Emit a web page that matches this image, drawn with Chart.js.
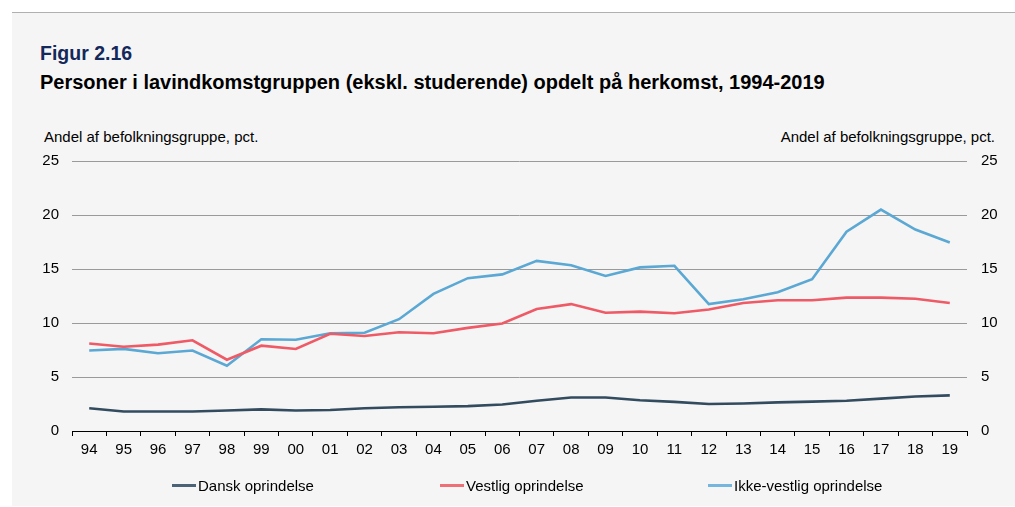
<!DOCTYPE html>
<html>
<head>
<meta charset="utf-8">
<script src="https://cdn.jsdelivr.net/npm/chart.js@4/dist/chart.umd.min.js"></script>
<style>
  html, body { margin: 0; padding: 0; background: #ffffff; }
  body { width: 1015px; height: 507px; position: relative; overflow: hidden; font-family: "Liberation Sans", Arial, sans-serif; }
  #panel { position: absolute; left: 12px; top: 12px; width: 1003px; height: 493px; background: #f5f5f5; border-top: 1px solid #b0b0b0; }
  #wrap { position: absolute; left: 0; top: 0; width: 1015px; height: 507px; }
  .t { position: absolute; white-space: nowrap; }
  #fig { left: 40px; top: 42px; font-size: 19.5px; font-weight: bold; color: #14285a; }
  #sub { left: 40px; top: 71px; font-size: 20px; font-weight: bold; color: #000; }
  #yl { left: 44px; top: 128px; font-size: 15px; color: #000; }
  #yr { right: 20px; top: 128px; font-size: 15px; color: #000; }
  #legend { position: absolute; top: 476px; left: 0; width: 1015px; height: 20px; font-size: 15px; color: #000; }
  .li { position: absolute; top: 0; display: flex; align-items: center; height: 18px; }
  .sw { width: 24px; height: 3px; margin-right: 2px; }
</style>
</head>
<body>
<div id="panel"></div>
<div class="t" id="fig">Figur 2.16</div>
<div class="t" id="sub">Personer i lavindkomstgruppen (ekskl. studerende) opdelt på herkomst, 1994-2019</div>
<div class="t" id="yl">Andel af befolkningsgruppe, pct.</div>
<div class="t" id="yr">Andel af befolkningsgruppe, pct.</div>
<div id="wrap"><canvas id="c" width="1015" height="507"></canvas></div>
<div id="legend"></div>
<script>
const years = ["94","95","96","97","98","99","00","01","02","03","04","05","06","07","08","09","10","11","12","13","14","15","16","17","18","19"];
const dansk = [2.1,1.8,1.8,1.8,1.9,2.0,1.9,1.95,2.1,2.2,2.25,2.3,2.45,2.8,3.1,3.1,2.85,2.7,2.5,2.55,2.65,2.72,2.8,3.0,3.2,3.3];
const vestlig = [8.1,7.8,8.0,8.4,6.6,7.9,7.6,9.0,8.8,9.15,9.05,9.55,9.95,11.3,11.75,10.95,11.05,10.9,11.25,11.85,12.1,12.1,12.35,12.35,12.25,11.85];
const ikkeVestlig = [7.45,7.6,7.2,7.45,6.05,8.5,8.45,9.05,9.1,10.35,12.7,14.15,14.5,15.75,15.35,14.35,15.15,15.3,11.75,12.2,12.85,14.05,18.45,20.5,18.65,17.45];
const seriesNames = ["Dansk oprindelse","Vestlig oprindelse","Ikke-vestlig oprindelse"];
const seriesColors = ["#324b5f","#ee5a66","#5aa8d3"];
const legendColors = ["#4a6376","#ef6f78","#74b6dc"];
const yTicks = [0,5,10,15,20,25];

const font = { family: "'Liberation Sans', Arial, sans-serif", size: 15 };

new Chart(document.getElementById('c'), {
  type: 'line',
  data: {
    labels: years,
    datasets: [dansk, vestlig, ikkeVestlig].map((d, i) => ({
      label: seriesNames[i],
      data: d,
      borderColor: seriesColors[i],
      backgroundColor: seriesColors[i],
      borderWidth: 2.6,
      pointRadius: 0,
      tension: 0,
      yAxisID: 'y'
    }))
  },
  options: {
    responsive: false,
    animation: false,
    events: [],
    layout: { padding: { top: 161, left: 0, right: 0, bottom: 0 } },
    plugins: { legend: { display: false }, tooltip: { enabled: false }, title: { display: false } },
    scales: {
      x: {
        offset: true,
        grid: { offset: true, drawOnChartArea: false, drawTicks: true, tickLength: 5, color: '#000', lineWidth: 1 },
        border: { display: true, color: '#000', width: 1 },
        ticks: { color: '#000', font: font, padding: 5, autoSkip: false, maxRotation: 0 },
        afterFit: (s) => { s.height = 76; }
      },
      y: {
        position: 'left',
        min: 0, max: 25,
        afterBuildTicks: (s) => { s.ticks = yTicks.map(v => ({ value: v })); },
        grid: { color: '#9a9a9a', lineWidth: 1, drawTicks: false },
        border: { display: false },
        ticks: { color: '#000', font: font, padding: 13 },
        afterFit: (s) => { s.width = 72; }
      },
      y2: {
        position: 'right',
        min: 0, max: 25,
        afterBuildTicks: (s) => { s.ticks = yTicks.map(v => ({ value: v })); },
        grid: { display: false, drawTicks: false },
        border: { display: false },
        ticks: { color: '#000', font: font, padding: 14 },
        afterFit: (s) => { s.width = 48; }
      }
    }
  }
});

// legend (HTML) built from series names/colors
const lg = document.getElementById('legend');
const legendLeft = [172, 440, 708];
seriesNames.forEach((n, i) => {
  const d = document.createElement('div');
  d.className = 'li';
  d.style.left = legendLeft[i] + 'px';
  d.innerHTML = '<span class="sw" style="background:' + legendColors[i] + '"></span><span>' + n + '</span>';
  lg.appendChild(d);
});
</script>
</body>
</html>
